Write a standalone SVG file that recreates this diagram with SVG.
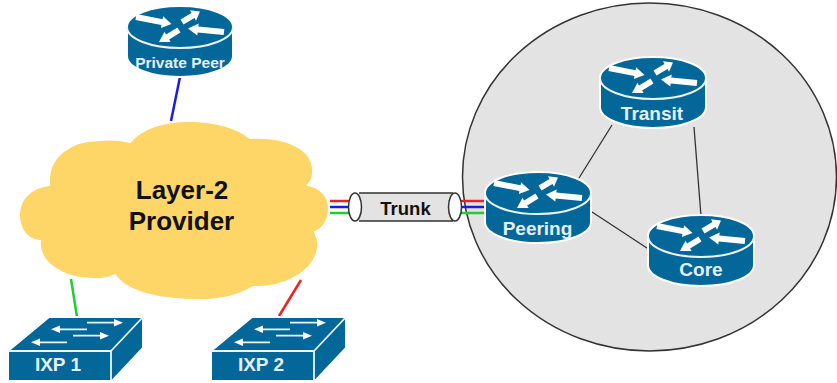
<svg xmlns="http://www.w3.org/2000/svg" width="837" height="383" viewBox="0 0 837 383">
<style>
.lbl{font-family:"Liberation Sans",Arial,sans-serif;font-weight:bold;fill:#e6eff5;text-anchor:middle;font-size:19px}
.blk{font-family:"Liberation Sans",Arial,sans-serif;font-weight:bold;fill:#111;text-anchor:middle}
.w{fill:#fff;stroke:none}
.wl{stroke:#eef5f9;fill:none}
</style>
<defs>
<g id="router">
<path d="M0 21C0 9 24 0 53 0S106 9 106 21V50C106 62 82 71 53 71S0 62 0 50Z" fill="#04679a" stroke="#fff" stroke-width="2"/>
<path class="wl" stroke-width="2" d="M0 21C0 33 24 42 53 42S106 33 106 21"/>
<path class="w" d="M9.600 8L35.600 13.300L36.100 10.300L44.500 18L33.900 22.100L34.400 19.100L8.400 14Z"/>
<path class="w" d="M53.500 13.400L64.500 6.900L63 4.300L73 5.500L69 14.700L67.500 12.100L56.500 18.600Z"/>
<path class="w" d="M97.300 23L71.300 20.600L71.700 17.600L61 22.500L70.300 29.600L70.700 26.600L96.700 29Z"/>
<path class="w" d="M50.500 21.400L39 28.400L37.500 25.700L32 36L43.600 36.100L42.100 33.500L53.500 26.600Z"/>
</g>
<g id="switch">
<path d="M-1 34L40 0H134V31L103 64H-1Z" fill="#04679a" stroke="#fff" stroke-width="2"/>
<path class="wl" stroke-width="1.800" d="M-1 34H102V64M102 34L134 0"/>
<path class="wl" stroke-width="1.800" d="M78 5.700H106M50 12.300H78M64 18.700H92M30 25.300H58"/>
<path class="w" d="M105 2L114 5.700L105 9.400ZM51 8.600L42 12.300L51 16ZM91 15L100 18.700L91 22.400ZM31 21.600L22 25.300L31 29Z"/>
</g>
</defs>
<g id="domain"><ellipse cx="649.500" cy="177" rx="187" ry="174" fill="#e3e3e3" stroke="#333" stroke-width="1.500"/></g>
<g id="connectors" fill="none" stroke-width="2.500">
<path stroke="#1c1ce0" d="M180 77L171 121"/>
<path stroke="#22cc33" d="M71 279L77 317"/>
<path stroke="#f02020" d="M301 280L279 316"/>
<path stroke="#f02020" d="M330 201H352M461 201H486"/>
<path stroke="#1c1ce0" d="M330 207H352M461 207H486"/>
<path stroke="#22cc33" d="M330 213H352M461 213H486"/>
<g stroke="#333" stroke-width="1.300">
<path d="M612 125L579 178"/>
<path d="M694 127L701 216"/>
<path d="M589 210L650 250"/>
</g>
</g>
<g id="cloud">
<path d="M49 185C47 155 72 140 100 140C112 139 122 140 130 142C142 128 164 121 190 121C216 121 238 128 250 138C285 136 314 148 313 172C313 177 311 182 308 185C322 188 329 197 329 208C329 220 323 229 315 232C319 240 319 246 317 252C312 272 285 288 253 287C238 296 220 300 200 300C158 300 126 292 115 275C108 279 100 279 93 279C62 279 38 262 40 241C26 240 19 228 19 215C19 198 32 187 49 185Z" fill="#fdd667" stroke="#fff" stroke-width="2"/>
<text class="blk" font-size="26" x="182" y="199">Layer-2</text>
<text class="blk" font-size="26" x="181.500" y="230">Provider</text>
</g>
<g id="trunk">
<path d="M359 193H453V221H359Z" fill="#e3e3e3"/>
<path d="M359 193H453M359 221H453" fill="none" stroke="#333" stroke-width="1.500"/>
<ellipse cx="355" cy="207" rx="6.500" ry="14" fill="#fff" stroke="#333" stroke-width="1.500"/>
<ellipse cx="455" cy="207" rx="6.500" ry="14" fill="#fff" stroke="#333" stroke-width="1.500"/>
<text class="blk" font-size="18.500" x="405.500" y="215">Trunk</text>
</g>
<g id="private-peer"><use href="#router" x="127" y="6"/><text class="lbl" x="180" y="68" style="font-size:15.500px">Private Peer</text></g>
<g id="transit"><use href="#router" x="600" y="57"/><text class="lbl" x="652" y="120">Transit</text></g>
<g id="peering"><use href="#router" x="485" y="172"/><text class="lbl" x="537.500" y="235">Peering</text></g>
<g id="core"><use href="#router" x="648" y="215"/><text class="lbl" x="701" y="276">Core</text></g>
<g id="ixp1"><use href="#switch" x="9" y="317"/><text class="lbl" x="58" y="371">IXP 1</text></g>
<g id="ixp2"><use href="#switch" x="212" y="317"/><text class="lbl" x="261" y="371">IXP 2</text></g>
</svg>
